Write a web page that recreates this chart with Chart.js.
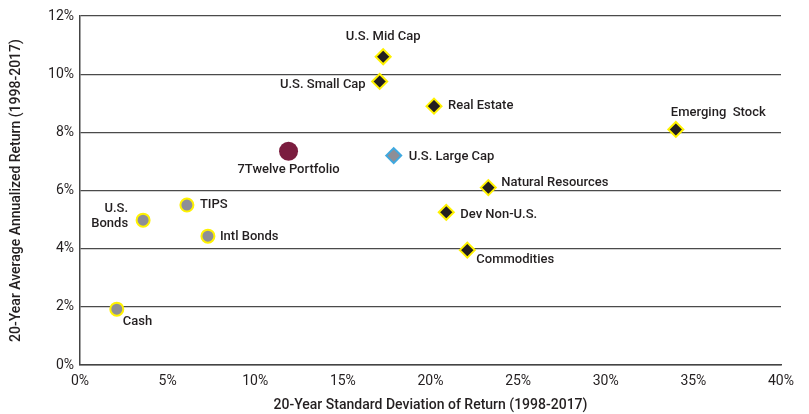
<!DOCTYPE html>
<html>
<head>
<meta charset="utf-8">
<script src="https://cdn.jsdelivr.net/npm/chart.js@4"></script>
<style>
  html, body { margin: 0; padding: 0; background: #fff; }
  #wrap { width: 809px; height: 414px; }
</style>
</head>
<body>
<div id="wrap"><canvas id="chart" width="809" height="414"></canvas></div>
<script>
// asset classes, 1998-2017
const names = ['U.S. Mid Cap', 'U.S. Small Cap', 'Real Estate', 'Emerging  Stock', '7Twelve Portfolio',
  'U.S. Large Cap', 'Natural Resources', 'Dev Non-U.S.', 'Commodities', 'TIPS', 'U.S. Bonds', 'Intl Bonds', 'Cash'];
const stdDev  = [17.3, 17.1, 20.2, 34.0, 11.9, 17.9, 23.3, 20.9, 22.1, 6.1, 3.6, 7.3, 2.1];
const returns = [10.6, 9.75, 8.9, 8.1, 7.35, 7.2, 6.1, 5.25, 3.95, 5.5, 4.98, 4.43, 1.92];
const kinds   = ['stock', 'stock', 'stock', 'stock', 'port', 'large', 'stock', 'stock', 'stock', 'bond', 'bond', 'bond', 'bond'];
const xTicks = [0, 5, 10, 15, 20, 25, 30, 35, 40];
const yTicks = [0, 2, 4, 6, 8, 10, 12];

const FONT = "'Roboto', sans-serif";
const TXT = '#231f20';

// where each label sits relative to its marker
const labelPos = {
  'U.S. Mid Cap':      { dx: 0,   dy: -20, align: 'center' },
  'U.S. Small Cap':    { dx: -14, dy: 3,   align: 'right' },
  'Real Estate':       { dx: 14,  dy: 0,   align: 'left' },
  'Emerging  Stock':   { dx: -5,  dy: -17, align: 'left' },
  '7Twelve Portfolio': { dx: 0,   dy: 19,  align: 'center' },
  'U.S. Large Cap':    { dx: 15,  dy: 1,   align: 'left' },
  'Natural Resources': { dx: 13,  dy: -5,  align: 'left' },
  'Dev Non-U.S.':      { dx: 14,  dy: 2,   align: 'left' },
  'Commodities':       { dx: 9,   dy: 10,  align: 'left' },
  'TIPS':              { dx: 13,  dy: 0,   align: 'left' },
  'U.S. Bonds':        { dx: -15, dy: -11, align: 'right', lines: ['U.S.', 'Bonds'] },
  'Intl Bonds':        { dx: 12,  dy: 1,   align: 'left' },
  'Cash':              { dx: 6,   dy: 13,  align: 'left' }
};

const styles = {
  stock: { pointStyle: 'rectRot', radius: 7.5, backgroundColor: '#231f20', borderColor: '#fff200', borderWidth: 2 },
  large: { pointStyle: 'rectRot', radius: 7.5, backgroundColor: '#8e8e96', borderColor: '#3fa9e0', borderWidth: 2 },
  bond:  { pointStyle: 'circle', radius: 6.5, backgroundColor: '#8e8e96', borderColor: '#fff200', borderWidth: 2 },
  port:  { pointStyle: 'circle', radius: 9.5, backgroundColor: '#7b1d3f', borderColor: '#7b1d3f', borderWidth: 0 }
};

const datasets = Object.keys(styles).map(function (k) {
  const pts = [];
  names.forEach(function (n, i) {
    if (kinds[i] === k) pts.push({ x: stdDev[i], y: returns[i], name: n });
  });
  const s = styles[k];
  return {
    label: k,
    data: pts,
    pointStyle: s.pointStyle,
    pointRadius: s.radius,
    pointHoverRadius: s.radius,
    pointBackgroundColor: s.backgroundColor,
    pointBorderColor: s.borderColor,
    pointBorderWidth: s.borderWidth
  };
});

const pointLabels = {
  id: 'pointLabels',
  afterDatasetsDraw(chart) {
    const c = chart.ctx;
    c.save();
    c.font = '500 13px ' + FONT;
    c.fillStyle = TXT;
    c.textBaseline = 'middle';
    chart.data.datasets.forEach(function (ds, di) {
      const meta = chart.getDatasetMeta(di);
      ds.data.forEach(function (p, i) {
        const el = meta.data[i];
        const lp = labelPos[p.name];
        c.textAlign = lp.align;
        const lines = lp.lines || [p.name];
        lines.forEach(function (t, li) {
          c.fillText(t, el.x + lp.dx, el.y + lp.dy + li * 15);
        });
      });
    });
    c.restore();
  }
};

new Chart(document.getElementById('chart'), {
  type: 'scatter',
  data: { datasets: datasets },
  options: {
    responsive: false,
    animation: false,
    layout: { padding: { left: 4, right: 28, top: 16, bottom: 0 } },
    plugins: { legend: { display: false }, tooltip: { enabled: false } },
    scales: {
      x: {
        min: 0, max: 40,
        afterBuildTicks: function (s) { s.ticks = xTicks.map(function (v) { return { value: v }; }); },
        afterFit: function (s) { s.height = 49; },
        grid: { display: false, drawTicks: false },
        border: { display: true, color: '#444', width: 1.5 },
        ticks: { padding: 8, color: TXT, font: { family: FONT, size: 14 }, callback: function (v) { return v + '%'; }, maxRotation: 0 },
        title: { display: true, text: '20-Year Standard Deviation of Return (1998-2017)', color: TXT, font: { family: FONT, size: 14, weight: '500' }, padding: { top: 4, bottom: 0 } }
      },
      y: {
        min: 0, max: 12,
        afterBuildTicks: function (s) { s.ticks = yTicks.map(function (v) { return { value: v }; }); },
        afterFit: function (s) { s.width = 76; },
        grid: { color: '#4a4a4a', lineWidth: 1.2, drawTicks: false },
        border: { display: true, color: '#444', width: 1.5 },
        ticks: { padding: 6, color: TXT, font: { family: FONT, size: 14 }, callback: function (v) { return v + '%'; } },
        title: { display: true, text: '20-Year Average Annualized Return (1998-2017)', color: TXT, font: { family: FONT, size: 14, weight: '500' }, padding: { bottom: 8 } }
      }
    }
  },
  plugins: [pointLabels]
});
</script>
</body>
</html>
